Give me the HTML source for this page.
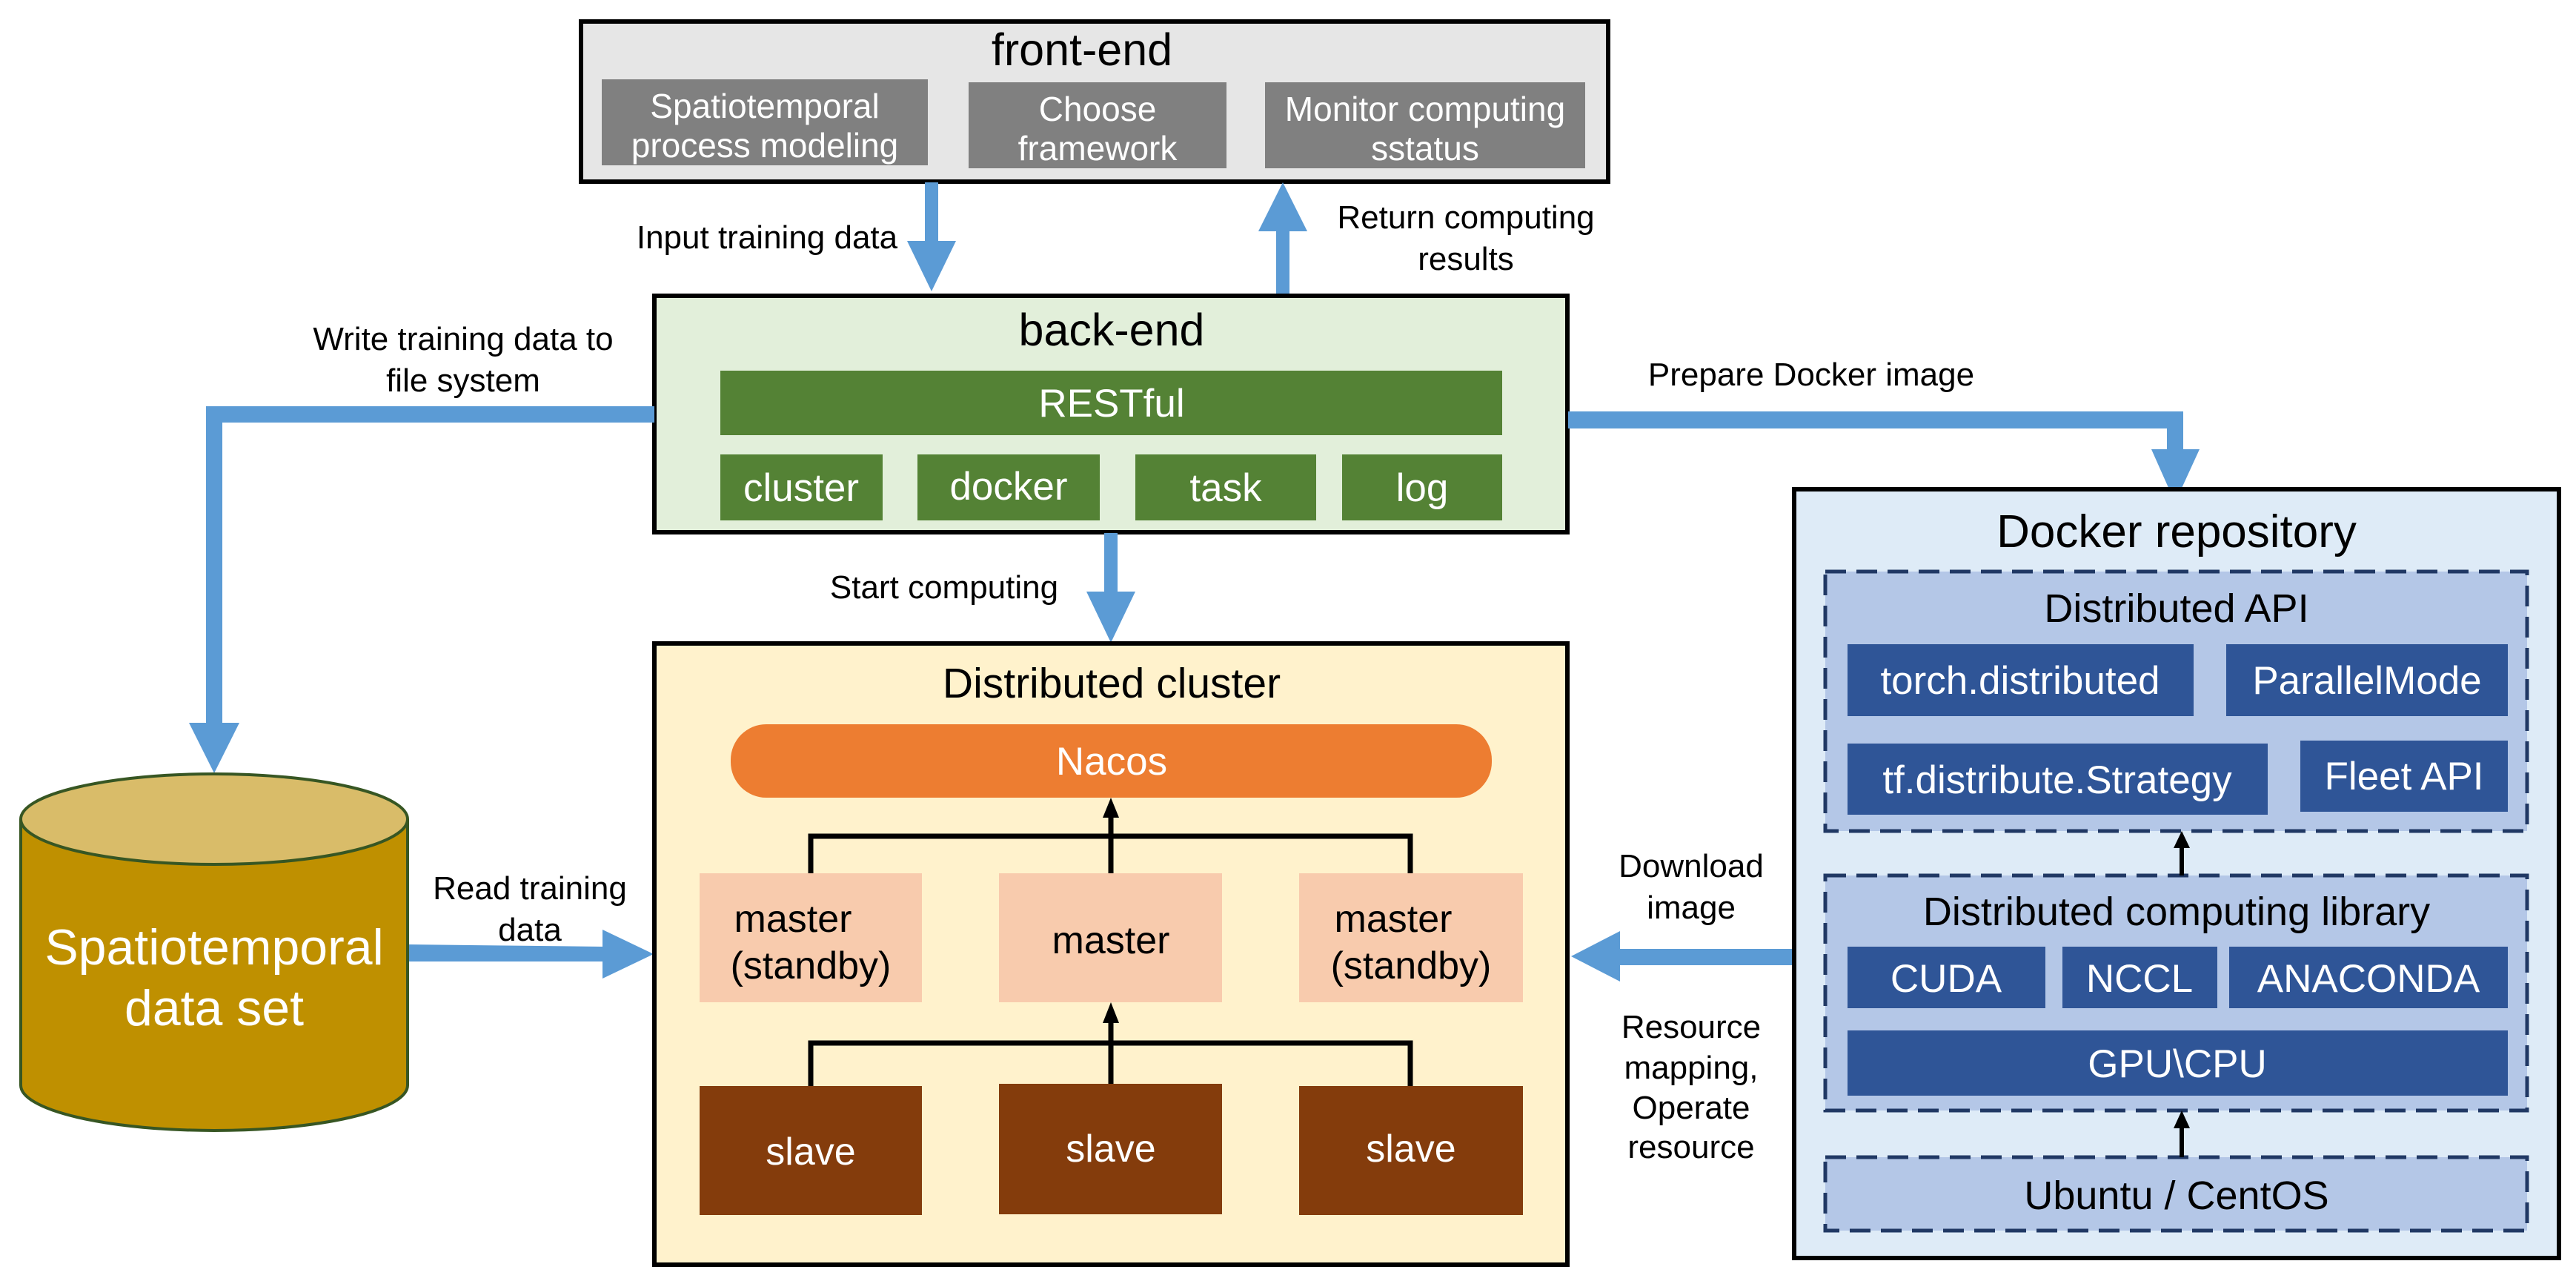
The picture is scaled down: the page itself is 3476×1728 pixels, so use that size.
<!DOCTYPE html>
<html><head><meta charset="utf-8"><style>
html,body{margin:0;padding:0;background:#fff}
svg{display:block}
text{font-family:"Liberation Sans",Arial,sans-serif}
</style></head><body>
<svg width="3476" height="1728" viewBox="0 0 3476 1728" xmlns="http://www.w3.org/2000/svg">
<!-- front-end -->
<rect x="784" y="29" width="1386" height="216" fill="#e6e6e6" stroke="#000" stroke-width="6"/>
<text x="1460" y="88" font-size="61" text-anchor="middle">front-end</text>
<rect x="812" y="107" width="440" height="116" fill="#808080"/>
<rect x="1307" y="111" width="348" height="116" fill="#808080"/>
<rect x="1707" y="111" width="432" height="116" fill="#808080"/>
<g fill="#fff" font-size="46" text-anchor="middle">
<text x="1032" y="159">Spatiotemporal</text><text x="1032" y="212">process modeling</text>
<text x="1481" y="163">Choose</text><text x="1481" y="216">framework</text>
<text x="1923" y="163">Monitor computing</text><text x="1923" y="216">sstatus</text>
</g>
<!-- arrows front/back -->
<g fill="#5b9bd5">
<rect x="1248" y="246" width="18" height="82"/><polygon points="1224,325 1290,325 1257,393"/>
<rect x="1722" y="310" width="18" height="86"/><polygon points="1698,312 1764,312 1731,246"/>
</g>
<g font-size="44" text-anchor="middle">
<text x="1035" y="335">Input training data</text>
<text x="1978" y="308">Return computing</text><text x="1978" y="364">results</text>
<text x="625" y="472">Write training data to</text><text x="625" y="528">file system</text>
<text x="2444" y="520">Prepare Docker image</text>
<text x="1274" y="807">Start computing</text>
<text x="715" y="1213">Read training</text><text x="715" y="1269">data</text>
<text x="2282" y="1183">Download</text><text x="2282" y="1239">image</text>
<text x="2282" y="1400">Resource</text><text x="2282" y="1455">mapping,</text><text x="2282" y="1509">Operate</text><text x="2282" y="1562">resource</text>
</g>
<!-- back-end -->
<rect x="883" y="399" width="1232" height="319" fill="#e2efda" stroke="#000" stroke-width="6"/>
<text x="1500" y="466" font-size="61" text-anchor="middle">back-end</text>
<g fill="#548235">
<rect x="972" y="500" width="1055" height="87"/>
<rect x="972" y="613" width="219" height="89"/>
<rect x="1238" y="613" width="246" height="89"/>
<rect x="1532" y="613" width="244" height="89"/>
<rect x="1811" y="613" width="216" height="89"/>
</g>
<g fill="#fff" font-size="53" text-anchor="middle">
<text x="1500" y="562">RESTful</text>
<text x="1081" y="676">cluster</text><text x="1361" y="674">docker</text>
<text x="1654" y="676">task</text><text x="1919" y="676">log</text>
</g>
<!-- blue connectors -->
<g fill="#5b9bd5">
<rect x="278" y="548" width="605" height="22"/>
<rect x="278" y="548" width="22" height="430"/>
<polygon points="255,975 323,975 289,1043"/>
<rect x="2116" y="555" width="830" height="23"/>
<rect x="2924" y="555" width="22" height="55"/>
<polygon points="2903,606 2968,606 2935,678"/>
<rect x="1490" y="719" width="18" height="82"/>
<polygon points="1466,798 1532,798 1499,867"/>
<polygon points="550,1274 815,1277 815,1297 550,1297"/>
<polygon points="813,1254 882,1287 813,1320"/>
<rect x="2182" y="1280" width="238" height="22"/>
<polygon points="2186,1256 2186,1324 2120,1290"/>
</g>
<!-- cylinder -->
<path d="M28,1105 L28,1464 A261,61 0 0 0 550,1464 L550,1105" fill="#bf9000" stroke="#375623" stroke-width="4"/>
<ellipse cx="289" cy="1105" rx="261" ry="61" fill="#d9bc69" stroke="#375623" stroke-width="4"/>
<g fill="#fff" font-size="68" text-anchor="middle">
<text x="289" y="1301">Spatiotemporal</text><text x="289" y="1383">data set</text>
</g>
<!-- cluster -->
<rect x="883" y="868" width="1232" height="838" fill="#fff2cc" stroke="#000" stroke-width="6"/>
<text x="1500" y="941" font-size="57" text-anchor="middle">Distributed cluster</text>
<rect x="986" y="977" width="1027" height="99" rx="48" fill="#ed7d31"/>
<text x="1500" y="1045" fill="#fff" font-size="53" text-anchor="middle">Nacos</text>
<g fill="#f8cbad">
<rect x="944" y="1178" width="300" height="174"/>
<rect x="1348" y="1178" width="301" height="174"/>
<rect x="1753" y="1178" width="302" height="174"/>
</g>
<g fill="#843c0c">
<rect x="944" y="1465" width="300" height="174"/>
<rect x="1348" y="1462" width="301" height="176"/>
<rect x="1753" y="1465" width="302" height="174"/>
</g>
<g font-size="52" text-anchor="middle">
<text x="1070" y="1257">master</text><text x="1094" y="1320">(standby)</text>
<text x="1499" y="1286">master</text>
<text x="1880" y="1257">master</text><text x="1904" y="1320">(standby)</text>
</g>
<g fill="#fff" font-size="52" text-anchor="middle">
<text x="1094" y="1571">slave</text><text x="1499" y="1567">slave</text><text x="1904" y="1567">slave</text>
</g>
<g stroke="#000" stroke-width="7" fill="none">
<polyline points="1094,1178 1094,1128 1903,1128 1903,1178"/>
<polyline points="1094,1465 1094,1407 1903,1407 1903,1465"/>
<line x1="1499" y1="1178" x2="1499" y2="1100"/>
<line x1="1499" y1="1462" x2="1499" y2="1376"/>
</g>
<polygon points="1488,1103 1510,1103 1499,1076" fill="#000"/>
<polygon points="1488,1380 1510,1380 1499,1352" fill="#000"/>
<!-- docker repository -->
<rect x="2421" y="660" width="1032" height="1037" fill="#deebf7" stroke="#000" stroke-width="6"/>
<text x="2937" y="738" font-size="62" text-anchor="middle">Docker repository</text>
<g fill="#b4c7e7" stroke="#203864" stroke-width="5" stroke-dasharray="28,14">
<rect x="2463" y="771" width="947" height="350"/>
<rect x="2463" y="1181" width="947" height="317"/>
<rect x="2463" y="1561" width="947" height="99"/>
</g>
<g fill="#2f5597">
<rect x="2493" y="869" width="467" height="97"/>
<rect x="3004" y="869" width="380" height="97"/>
<rect x="2493" y="1003" width="567" height="96"/>
<rect x="3104" y="999" width="280" height="96"/>
<rect x="2493" y="1277" width="267" height="83"/>
<rect x="2783" y="1277" width="209" height="83"/>
<rect x="3008" y="1277" width="376" height="83"/>
<rect x="2493" y="1390" width="891" height="88"/>
</g>
<g font-size="54" text-anchor="middle">
<text x="2937" y="839">Distributed API</text>
<text x="2937" y="1248">Distributed computing library</text>
<text x="2937" y="1631">Ubuntu / CentOS</text>
</g>
<g fill="#fff" font-size="53" text-anchor="middle">
<text x="2726" y="936">torch.distributed</text>
<text x="3194" y="936">ParallelMode</text>
<text x="2776" y="1070">tf.distribute.Strategy</text>
<text x="3244" y="1065">Fleet API</text>
<text x="2626" y="1338">CUDA</text>
<text x="2887" y="1338">NCCL</text>
<text x="3196" y="1338">ANACONDA</text>
<text x="2938" y="1453">GPU\CPU</text>
</g>
<g stroke="#000" stroke-width="6">
<line x1="2944" y1="1181" x2="2944" y2="1140"/>
<line x1="2944" y1="1561" x2="2944" y2="1518"/>
</g>
<polygon points="2933,1144 2955,1144 2944,1121" fill="#000"/>
<polygon points="2933,1522 2955,1522 2944,1498" fill="#000"/>
</svg>
</body></html>
